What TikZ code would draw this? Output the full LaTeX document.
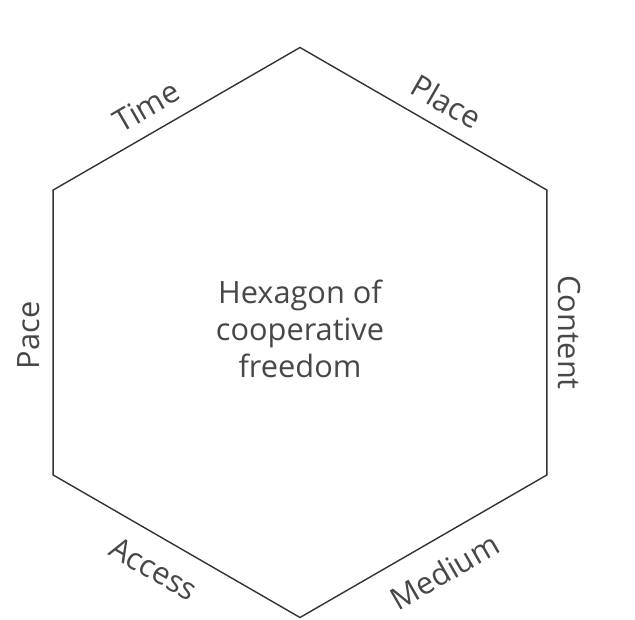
\documentclass[tikz,border=0pt]{standalone}
\usepackage{fontspec}
\setmainfont{Open Sans}
\begin{document}
\begin{tikzpicture}[
  x=0.02cm, y=0.02cm,
  hexline/.style={draw=black!80, line width=0.8pt, line join=miter},
  sidelbl/.style={font=\fontsize{17.5}{21}\selectfont, text=black!72,
    inner sep=0pt, sloped},
  centrelbl/.style={font=\fontsize{17.5}{21}\selectfont, text=black!72,
    align=center, inner sep=0pt}
]
\useasboundingbox (0,0) rectangle (635,619);

%% ── Hexagon corners ──────────────────────────────────────────
\coordinate (T)  at (300.0, 571.5);
\coordinate (UR) at (546.8, 429.0);
\coordinate (LR) at (546.8, 144.0);
\coordinate (B)  at (300.0,   1.5);
\coordinate (LL) at ( 53.2, 144.0);
\coordinate (UL) at ( 53.2, 429.0);

\draw[hexline] (T) -- (UR) -- (LR) -- (B) -- (LL) -- (UL) -- cycle;

%% ── Centre text ──────────────────────────────────────────────
\node[centrelbl] (title) at (300, 290) {Hexagon of\\cooperative\\freedom};

%% ── Side labels ──────────────────────────────────────────────
\path (UL) -- node[sidelbl, pos=0.43, above=8pt]   (time)  {Time}    (T);
\path (T)  -- node[sidelbl, pos=0.54, above=8pt]   (place) {Place}   (UR);
\path (UR) -- node[sidelbl, pos=0.50, above=6pt]   (cont)  {Content} (LR);
\path (B)  -- node[sidelbl, pos=0.52, below=11.5pt] (med)  {Medium}  (LR);
\path (LL) -- node[sidelbl, pos=0.47, below=11pt]  (acc)   {Access}  (B);
\path (LL) -- node[sidelbl, pos=0.49, above=7.5pt] (pace)  {Pace}    (UL);

\end{tikzpicture}
\end{document}
